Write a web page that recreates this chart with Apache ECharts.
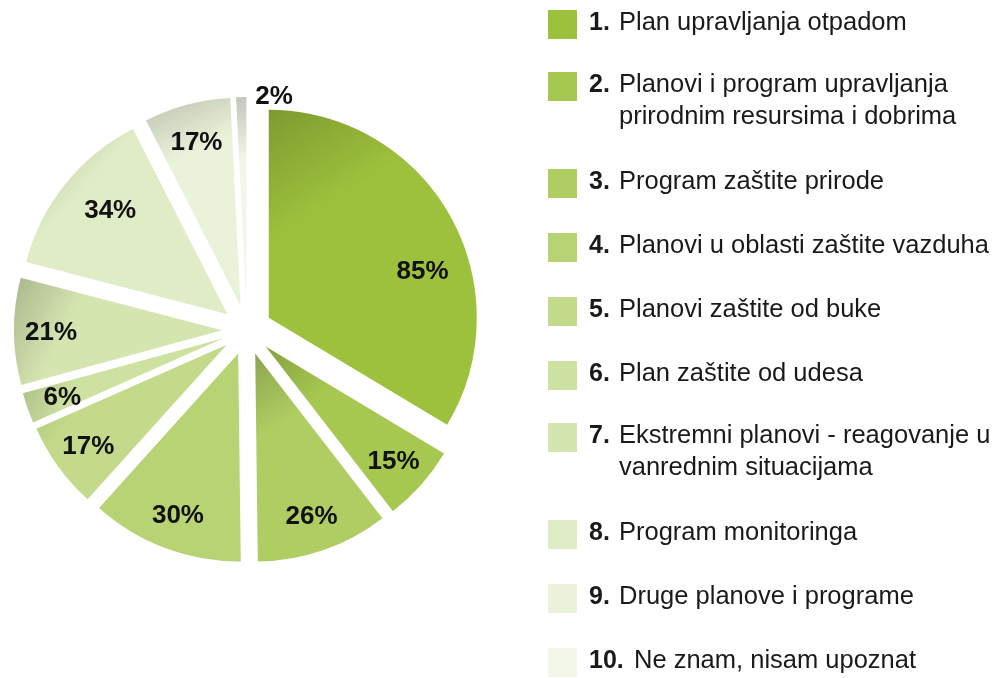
<!DOCTYPE html>
<html><head><meta charset="utf-8">
<script src="https://cdn.jsdelivr.net/npm/echarts@6/dist/echarts.min.js"></script>
<style>html,body{margin:0;padding:0;background:#fff}#c{width:996px;height:678px}</style>
</head><body><div id="c"></div>
<script>
// ---- data ----
const categories = [
  'Plan upravljanja otpadom',
  'Planovi i program upravljanja\nprirodnim resursima i dobrima',
  'Program zaštite prirode',
  'Planovi u oblasti zaštite vazduha',
  'Planovi zaštite od buke',
  'Plan zaštite od udesa',
  'Ekstremni planovi - reagovanje u\nvanrednim situacijama',
  'Program monitoringa',
  'Druge planove i programe',
  'Ne znam, nisam upoznat'
];
const values = [85, 15, 26, 30, 17, 6, 21, 34, 17, 2];
const colors = ['#9dc13c', '#a6c850', '#afcd62', '#b8d374', '#c3da8a',
                '#cde1a0', '#d5e5b0', '#e0ecc5', '#eaf2d9', '#f2f6e8'];

// ---- layout / style ----
const CENTER = [247, 330];
const R = 208;
const OFFSET = 25;
const labelShift = { 0: [5, 36], 7: [16, 2], 9: [32, -39] };
const FONT = '"Liberation Sans", Arial, Helvetica, sans-serif';

function darken(hex, k) {
  const n = parseInt(hex.slice(1), 16);
  const r = Math.round(((n >> 16) & 255) * k);
  const g = Math.round(((n >> 8) & 255) * k);
  const b = Math.round((n & 255) * k);
  return 'rgb(' + r + ',' + g + ',' + b + ')';
}
function shaded(hex) {
  return {
    type: 'linear', x: 0, y: 0, x2: 1, y2: 1,
    colorStops: [
      { offset: 0, color: darken(hex, 0.8) },
      { offset: 0.3, color: hex },
      { offset: 1, color: hex }
    ]
  };
}

const chart = echarts.init(document.getElementById('c'), null, { renderer: 'canvas' });

// legend built as graphic elements
const legendEls = [];
let rowTop = 10;
categories.forEach((name, i) => {
  const lines = name.split('\n').length;
  const numX = 589;
  const bodyX = numX + (i + 1 < 10 ? 30 : 45);
  legendEls.push({
    type: 'rect', silent: true,
    shape: { x: 548, y: rowTop, width: 29, height: 29 },
    style: { fill: colors[i] }
  });
  legendEls.push({
    type: 'text', silent: true,
    style: {
      text: (i + 1) + '.', x: numX, y: rowTop - 3, fill: '#1a1a1a',
      fontFamily: FONT, fontSize: 25, fontWeight: 'bold',
      lineHeight: 32, verticalAlign: 'top', align: 'left'
    }
  });
  legendEls.push({
    type: 'text', silent: true,
    style: {
      text: name, x: bodyX, y: rowTop - 3, fill: '#1a1a1a',
      fontFamily: FONT, fontSize: 25.5, fontWeight: 'normal',
      lineHeight: 32, verticalAlign: 'top', align: 'left'
    }
  });
  rowTop += (lines > 1 ? 97 : 64) - (i === 0 || i === 5 ? 2 : 0);
});

const baseData = values.map((v, i) => ({ value: v, name: categories[i], selected: true }));

chart.setOption({
  animation: false,
  backgroundColor: '#ffffff',
  series: [
    {
      type: 'pie',
      center: CENTER,
      radius: R,
      startAngle: 90,
      clockwise: true,
      selectedMode: 'multiple',
      selectedOffset: OFFSET,
      silent: true,
      label: { show: false },
      labelLine: { show: false },
      emphasis: { disabled: true },
      data: baseData.map((d, i) => Object.assign({}, d, { itemStyle: { color: shaded(colors[i]) } }))
    },
    {
      type: 'pie',
      center: CENTER,
      radius: [128, R],
      startAngle: 90,
      clockwise: true,
      selectedMode: 'multiple',
      selectedOffset: OFFSET,
      silent: true,
      itemStyle: { color: 'rgba(0,0,0,0)' },
      labelLine: { show: false },
      emphasis: { disabled: true },
      label: {
        show: true, position: 'inside',
        formatter: '{c}%',
        color: '#111', fontFamily: FONT, fontSize: 26, fontWeight: 'bold'
      },
      labelLayout: function (p) {
        const s = labelShift[p.dataIndex];
        return s ? { dx: s[0], dy: s[1] + 2 } : { dy: 2 };
      },
      data: baseData
    }
  ],
  graphic: legendEls
});
</script>
</body></html>
